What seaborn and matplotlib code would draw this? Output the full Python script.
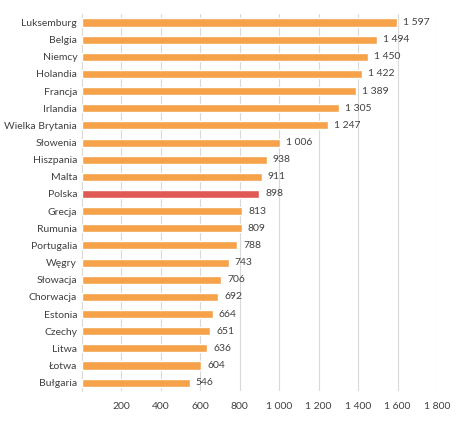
import pandas as pd
import matplotlib.pyplot as plt
import seaborn as sns

countries = ['Luksemburg', 'Belgia', 'Niemcy', 'Holandia', 'Francja', 'Irlandia',
             'Wielka Brytania', 'Słowenia', 'Hiszpania', 'Malta', 'Polska', 'Grecja',
             'Rumunia', 'Portugalia', 'Węgry', 'Słowacja', 'Chorwacja', 'Estonia',
             'Czechy', 'Litwa', 'Łotwa', 'Bułgaria']
values = [1597, 1494, 1450, 1422, 1389, 1305, 1247, 1006, 938, 911, 898, 813,
          809, 788, 743, 706, 692, 664, 651, 636, 604, 546]
ticks = [200, 400, 600, 800, 1000, 1200, 1400, 1600, 1800]

orange = '#F5A24B'
red = '#E05A55'

df = pd.DataFrame({'kraj': countries, 'wartosc': values})
palette = {c: (red if c == 'Polska' else orange) for c in countries}

sns.set_style('white')
plt.rcParams['font.family'] = ['Lato', 'DejaVu Sans']


def fmt(v):
    return f'{v:,}'.replace(',', ' ')


fig = plt.figure(figsize=(4.74, 4.22), dpi=100)
ax = fig.add_axes([0.173, 0.073, 0.749, 0.894])
sns.barplot(data=df, x='wartosc', y='kraj', hue='kraj', palette=palette,
            order=countries, legend=False, width=0.47, saturation=1,
            ax=ax, zorder=3)

ax.set_xlim(0, 1800)
ax.set_xticks(ticks)
ax.set_xticklabels([fmt(t) for t in ticks])
ax.xaxis.grid(True, color='#D9D9D9', linewidth=0.8, zorder=0)
ax.set_axisbelow(True)
for s in ['top', 'right', 'bottom']:
    ax.spines[s].set_visible(False)
ax.spines['left'].set_color('#D9D9D9')
ax.tick_params(axis='both', length=0, labelsize=7.5, colors='#404040')
ax.tick_params(axis='x', pad=8)
ax.set_xlabel('')
ax.set_ylabel('')

for i, v in enumerate(values):
    ax.text(v + 30, i, fmt(v), va='center', ha='left', fontsize=7.5, color='#404040')

fig.savefig('out.png', dpi=100)
